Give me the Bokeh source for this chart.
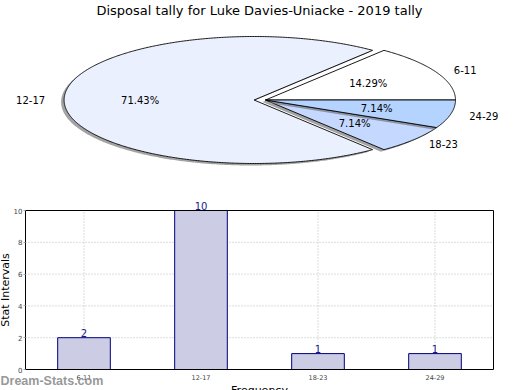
import numpy as np
from math import pi
from bokeh.plotting import figure
from bokeh.models import (Range1d, ColumnDataSource, Label, FixedTicker, LinearAxis)
from bokeh.layouts import column
from bokeh.embed import file_html
from bokeh.resources import INLINE
from bokeh.core.properties import value

# ---------------- data ----------------
title_text = "Disposal tally for Luke Davies-Uniacke - 2019 tally"
categories = ["6-11", "12-17", "18-23", "24-29"]
counts = [2, 10, 1, 1]
pie_colors = ["#ffffff", "#eaf0fe", "#c5d8ff", "#b4d4ff"]
explode = [0.0, 0.06, 0.0, 0.0]
y_ticks = [0, 2, 4, 6, 8, 10]
x_label = "Frequency"
y_label = "Stat Intervals"
watermark = "Dream-Stats.com"

FONT = "DejaVu Sans"
W = 520
H_PIE = 190
H_BAR = 200

# ---------------- pie (coordinates in page pixels) ----------------
CX, CY, RX, RY = 265.0, 99.5, 190.0, 63.5
SHX, SHY = -3.0, 2.0
LABEL_DIST, PCT_DIST = 1.1, 0.6

pie = figure(width=W, height=H_PIE, x_range=Range1d(0, W), y_range=Range1d(H_PIE, 0),
             output_backend="svg", toolbar_location=None, min_border=0,
             x_axis_location=None, y_axis_location=None)
pie.grid.visible = False
pie.outline_line_color = None

total = float(sum(counts))
xs, ys, fills, falpha, lalpha = [], [], [], [], []
lab_l = dict(x=[], y=[], text=[])
lab_r = dict(x=[], y=[], text=[])
pct = dict(x=[], y=[], text=[])
start = 0.0
for i, c in enumerate(counts):
    frac = c / total
    a0, a1 = 360.0 * start, 360.0 * (start + frac)
    mid = np.radians((a0 + a1) / 2)
    ox = explode[i] * RX * np.cos(mid)
    oy = -explode[i] * RY * np.sin(mid)
    th = np.radians(np.linspace(a0, a1, max(6, int(a1 - a0) * 2 + 2)))
    wx = [CX + ox] + list(CX + ox + RX * np.cos(th))
    wy = [CY + oy] + list(CY + oy - RY * np.sin(th))
    # shadow then wedge
    xs.append([x + SHX for x in wx]); ys.append([y + SHY for y in wy])
    fills.append("#666666"); falpha.append(0.6); lalpha.append(0.0)
    xs.append(wx); ys.append(wy)
    fills.append(pie_colors[i]); falpha.append(1.0); lalpha.append(1.0)
    lx = CX + ox + LABEL_DIST * RX * np.cos(mid)
    ly = CY + oy - LABEL_DIST * RY * np.sin(mid)
    target = lab_l if np.cos(mid) > 0 else lab_r
    target["x"].append(lx); target["y"].append(ly); target["text"].append(categories[i])
    pct["x"].append(CX + ox + PCT_DIST * RX * np.cos(mid))
    pct["y"].append(CY + oy - PCT_DIST * RY * np.sin(mid))
    pct["text"].append("%.2f%%" % (100 * frac))
    start += frac

pie.patches(xs="xs", ys="ys", source=ColumnDataSource(dict(xs=xs, ys=ys, fc=fills, fa=falpha, la=lalpha)),
            fill_color="fc", fill_alpha="fa", line_color="#000000", line_alpha="la", line_width=0.9)

common = dict(text_font=value(FONT), text_font_size="10px", text_color="#000000", text_baseline="middle")
pie.text(x="x", y="y", text="text", source=ColumnDataSource(lab_l), text_align="left", **common)
pie.text(x="x", y="y", text="text", source=ColumnDataSource(lab_r), text_align="right", **common)
pie.text(x="x", y="y", text="text", source=ColumnDataSource(pct), text_align="center", **common)

pie.add_layout(Label(x=259, y=10, text=title_text, text_font=FONT, text_font_size="13px",
                     text_align="center", text_baseline="middle", text_color="#000000"))

# ---------------- bar chart ----------------
# plot box in page pixels; data coords: category index (bar centres) and value
F_LEFT, F_RIGHT, F_TOP, F_BOT = 25.0, 493.0, 210.0, 369.0
n = len(categories)
idx = list(range(n))
PX_X = (F_RIGHT - F_LEFT) / n
PX_Y = (F_BOT - F_TOP) / float(y_ticks[-1] - y_ticks[0])

def bx(px):
    return (px - F_LEFT) / PX_X - 0.5

def by(py):
    return (F_BOT - py) / PX_Y + y_ticks[0]

bar = figure(width=W, height=H_BAR,
             x_range=Range1d(bx(0), bx(W)), y_range=Range1d(by(H_PIE + H_BAR), by(H_PIE)),
             output_backend="svg", toolbar_location=None, min_border=0,
             x_axis_location=None, y_axis_location=None)
bar.grid.visible = False
bar.outline_line_color = None

# dotted grid at the ticks, inside the plot box
bar.segment(x0=[-0.5] * len(y_ticks), x1=[n - 0.5] * len(y_ticks), y0=y_ticks, y1=y_ticks,
            line_color="#b8b8b8", line_dash="1 2", line_width=1)
bar.segment(x0=idx, x1=idx, y0=[y_ticks[0]] * n, y1=[y_ticks[-1]] * n,
            line_color="#b8b8b8", line_dash="1 2", line_width=1)

bar.vbar(x=idx, top=counts, width=0.45, fill_color="#ccccE5", line_color="#000080", line_width=1)

# plot box
bar.quad(left=[-0.5], right=[n - 0.5], bottom=[y_ticks[0]], top=[y_ticks[-1]],
         fill_color=None, line_color="#000000", line_width=1)

bar.text(x=idx, y=counts, text=[str(c) for c in counts], text_align="center", text_baseline="bottom",
         text_font=value(FONT), text_font_size="10px", text_color="#1a1a8c", y_offset=-1)

yax = LinearAxis(fixed_location=-0.5, ticker=FixedTicker(ticks=y_ticks),
                 major_label_text_font=FONT, major_label_text_font_size="7px",
                 major_tick_in=0, major_tick_out=2, major_tick_line_color="#aaaaaa",
                 minor_tick_line_color=None, axis_line_color=None, major_label_standoff=1)
bar.add_layout(yax, "left")

xax = LinearAxis(fixed_location=y_ticks[0], ticker=FixedTicker(ticks=idx),
                 major_label_overrides={i: c for i, c in zip(idx, categories)},
                 major_label_text_font=FONT, major_label_text_font_size="6.5px",
                 major_tick_in=0, major_tick_out=0, major_tick_line_color=None,
                 minor_tick_line_color=None, axis_line_color=None, major_label_standoff=5)
bar.add_layout(xax, "below")

bar.add_layout(Label(x=bx(5), y=(y_ticks[0] + y_ticks[-1]) / 2, text=y_label, angle=pi / 2,
                     text_font=FONT, text_font_size="11px",
                     text_align="center", text_baseline="middle", text_color="#000000"))
bar.add_layout(Label(x=bx(259), y=by(383), text=x_label, text_font=FONT, text_font_size="11px",
                     text_align="center", text_baseline="top", text_color="#000000"))
bar.add_layout(Label(x=bx(0), y=by(380.5), text=watermark, text_font="Liberation Sans",
                     text_font_size="12.5px", text_font_style="bold",
                     text_align="left", text_baseline="middle", text_color="#999999"))

layout = column(pie, bar, spacing=0)
open("out.html", "w").write(file_html(layout, INLINE))
